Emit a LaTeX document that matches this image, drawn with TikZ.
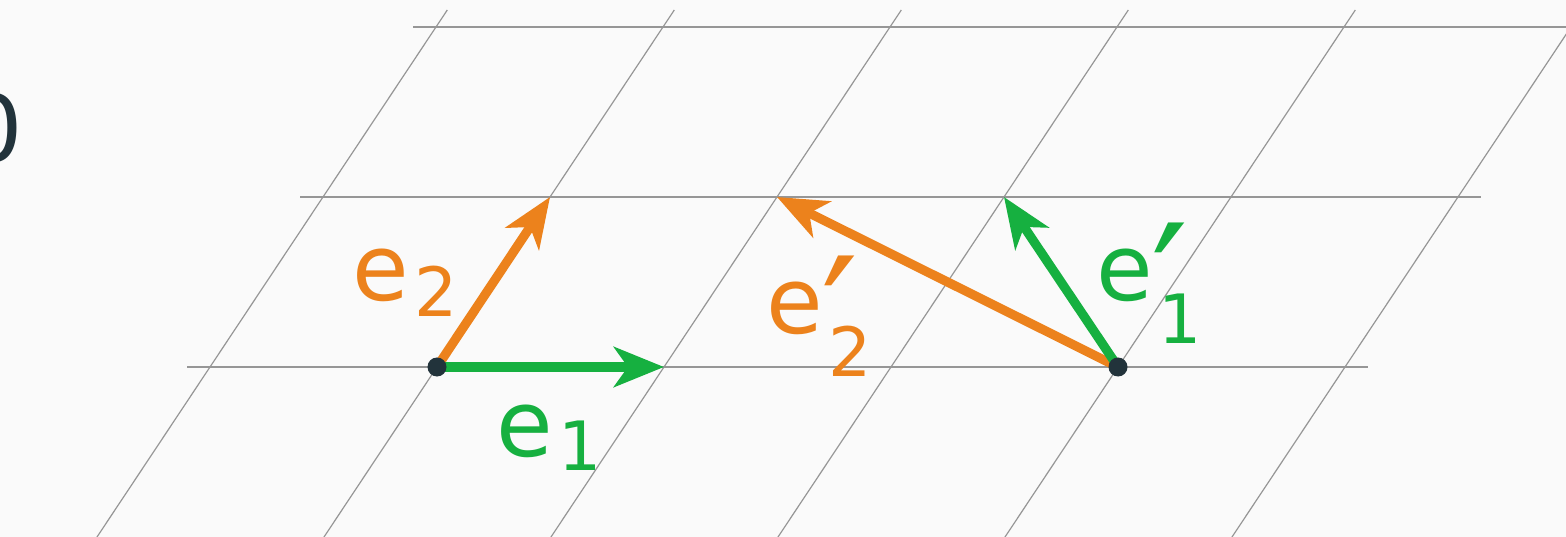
\documentclass[tikz,border=0pt]{standalone}
\usepackage{fontspec}
\setmainfont{DejaVu Sans}
\usetikzlibrary{arrows.meta}

\definecolor{basisgreen}{RGB}{22,176,64}
\definecolor{basisorange}{RGB}{236,130,28}
\definecolor{pointdark}{RGB}{34,51,59}
\definecolor{gridgray}{RGB}{150,150,150}
\definecolor{paper}{RGB}{250,250,250}

\tikzset{
  lattice/.style={x={(113.5bp,0bp)}, y={(56.5bp,85bp)}},
  gridline/.style={gridgray, line width=0.6bp},
  basisvec/.style={line width=4.6bp, -{Stealth[length=25bp,width=20bp,inset=7bp]}},
  latticept/.style={circle, fill=pointdark, inner sep=0pt, minimum size=9.5bp},
  veclabel/.style={anchor=base west, inner sep=0pt, font=\fontsize{46bp}{50bp}\selectfont},
}
\newcommand{\subsize}[1]{{\fontsize{34bp}{36bp}\selectfont #1}}
\newcommand{\primemark}{\rlap{\kern-1bp\raisebox{-21bp}{\fontsize{82bp}{84bp}\selectfont ′}}}

\begin{document}
\begin{tikzpicture}
  \clip (-218.5bp,-85bp) rectangle (564.5bp,183.5bp);
  \fill[paper] (-218.5bp,-85bp) rectangle (564.5bp,183.5bp);

  \begin{scope}[lattice]
    % grid
    \foreach \v in {0,1,2}
      \draw[gridline] (-1.1,\v) -- (4.1,\v);
    \foreach \u in {-1,...,4}
      \draw[gridline] (\u,-1.1) -- (\u,2.1);

    \coordinate (O) at (0,0);
    \coordinate (P) at (3,0);
    \coordinate (e1tip) at (1,0);
    \coordinate (e2tip) at (0,1);
    \coordinate (e1ptip) at (2,1);
    \coordinate (e2ptip) at (1,1);
  \end{scope}

  % old basis
  \draw[basisvec, basisorange] (O) -- (e2tip);
  \draw[basisvec, basisgreen] (O) -- (e1tip);
  % new basis
  \draw[basisvec, basisorange] (P) -- (e2ptip);
  \draw[basisvec, basisgreen] (P) -- (e1ptip);

  \node[latticept] (origin) at (O) {};
  \node[latticept] (shifted) at (P) {};

  \node[veclabel, text=basisorange] (lab-e2) at (-42.5bp,33.5bp)
    {e\kern2.5bp\raisebox{-8bp}{\subsize{2}}};
  \node[veclabel, text=basisgreen] (lab-e1) at (29.5bp,-44.5bp)
    {e\kern2.5bp\raisebox{-7bp}{\subsize{1}}};
  \node[veclabel, text=basisorange] (lab-e2p) at (164.5bp,17bp)
    {e\primemark\kern2.5bp\raisebox{-21.5bp}{\subsize{2}}};
  \node[veclabel, text=basisgreen] (lab-e1p) at (329.5bp,33.5bp)
    {e\primemark\kern2.5bp\raisebox{-21.5bp}{\subsize{1}}};

  \node[veclabel, anchor=base east, text=pointdark] (zero) at (-207bp,102.5bp) {0};
\end{tikzpicture}
\end{document}
